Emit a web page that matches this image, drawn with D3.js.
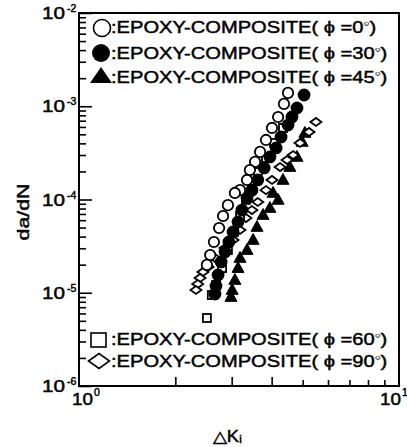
<!DOCTYPE html>
<html>
<head>
<meta charset="utf-8">
<script src="https://cdn.jsdelivr.net/npm/d3@7"></script>
<style>
  html, body { margin: 0; padding: 0; background: #fff; }
  svg { display: block; }
  text { font-family: "Liberation Sans", Arial, sans-serif; fill: #000; stroke: #000; stroke-width: 0.45; }
</style>
</head>
<body>
<svg id="chart" width="407" height="447"></svg>
<script>
// Crack growth rate da/dN vs stress intensity range ΔKi, per fibre angle φ
const series0 = [ // φ = 0°
  [4.50,1.39e-3],[4.37,1.06e-3],[4.19,7.67e-4],[4.01,5.85e-4],[3.84,4.35e-4],
  [3.68,3.24e-4],[3.55,2.53e-4],[3.42,2.07e-4],[3.35,1.62e-4],[3.185,1.26e-4],
  [3.07,1.175e-4],[2.92,8.7e-5],[2.82,6.65e-5],[2.74,4.95e-5],[2.64,3.5e-5],
  [2.57,2.54e-5],[2.51,1.99e-5]
];
const series30 = [ // φ = 30°
  [5.05,1.32e-3],[4.80,9.58e-4],[4.63,7.67e-4],[4.50,6.29e-4],[4.28,4.68e-4],
  [4.13,3.57e-4],[3.95,2.86e-4],[3.79,2.18e-4],[3.62,1.62e-4],[3.47,1.26e-4],
  [3.35,1.04e-4],[3.23,7.7e-5],[3.14,5.74e-5],[3.03,4.48e-5],[2.94,3.5e-5],
  [2.86,2.73e-5],[2.78,2.14e-5],[2.72,1.55e-5],[2.68,1.18e-5],[2.66,9.7e-6]
];
const series45 = [ // φ = 45°
  [5.08,5.17e-4],[4.98,4.14e-4],[4.80,2.86e-4],[4.56,2.23e-4],[4.34,1.62e-4],
  [4.04,1.175e-4],[4.19,9.9e-5],[3.95,8.1e-5],[3.76,6.82e-5],[3.60,5.07e-5],
  [3.50,3.68e-5],[3.35,2.87e-5],[3.185,2.36e-5],[3.14,1.84e-5],[3.07,1.37e-5],
  [3.01,1.07e-5],[2.985,9.0e-6]
];
const series60 = [ // φ = 60°
  [2.51,5.36e-6],[2.60,9.46e-6],[2.68,1.21e-5],[2.80,1.84e-5],[2.92,2.87e-5],
  [3.05,4.48e-5],[3.185,6.65e-5],[3.325,9.9e-5],[3.47,1.43e-4],[3.62,1.97e-4],
  [3.84,2.79e-4],[4.07,4.04e-4],[4.34,5.85e-4]
];
const series90 = [ // φ = 90°
  [5.50,6.78e-4],[5.235,5.30e-4],[4.905,4.04e-4],[4.67,3.0e-4],[4.47,2.65e-4],
  [4.25,2.23e-4],[4.01,1.62e-4],[3.84,1.26e-4],[3.62,9.4e-5],[3.47,7.7e-5],
  [3.325,6.33e-5],[3.185,4.71e-5],[3.03,3.68e-5],[2.86,3.02e-5],[2.66,2.36e-5],
  [2.53,1.89e-5],[2.44,1.67e-5],[2.39,1.44e-5],[2.35,1.24e-5],[2.32,1.07e-5]
];

const legendAngles = ["0", "30", "45", "60", "90"];
const yDecadeExps = ["-2", "-3", "-4", "-5", "-6"];
const xDecadeExps = ["0", "1"];
const xTitle = "△K";
const xTitleSub = "i";
const yTitle = "da/dN";

const svg = d3.select("#chart");
const padL = 79, padR = 399, padT = 13, padB = 386;

const x = d3.scaleLog().domain([1, 10]).range([padL, padR]);
const y = d3.scaleLog().domain([1e-6, 1e-2]).range([padB, padT]);

// frame
svg.append("rect")
  .attr("x", padL).attr("y", padT)
  .attr("width", padR - padL).attr("height", padB - padT)
  .attr("fill", "none").attr("stroke", "#000").attr("stroke-width", 2);

// y axis: decade + minor ticks pointing inward
const yTicks = [];
for (let e = -6; e < -2; e++) for (let m = 1; m <= 9; m++) yTicks.push(m * Math.pow(10, e));
yTicks.push(1e-2);
const yAxis = d3.axisLeft(y).tickValues(yTicks).tickSizeInner(-6).tickSizeOuter(0).tickFormat("");
const gy = svg.append("g").attr("transform", `translate(${padL},0)`).call(yAxis);
gy.select(".domain").remove();
gy.selectAll(".tick line").attr("stroke", "#000").attr("stroke-width", 1.6)
  .attr("x2", d => {
    const l = Math.log10(d);
    return Math.abs(l - Math.round(l)) < 1e-9 ? 13 : 7;
  });

// x axis: minor ticks pointing inward
const xTicks = [2, 3, 4, 5, 6, 7, 8, 9];
const xAxis = d3.axisBottom(x).tickValues(xTicks).tickSizeInner(-8).tickSizeOuter(0).tickFormat("");
const gx = svg.append("g").attr("transform", `translate(0,${padB})`).call(xAxis);
gx.select(".domain").remove();
gx.selectAll(".tick line").attr("stroke", "#000").attr("stroke-width", 1.6)
  .attr("y2", d => d <= 4 ? -9 : -6);

// y tick labels (10 with superscript exponent)
yDecadeExps.forEach(ex => {
  const yy = y(Math.pow(10, +ex));
  svg.append("text").attr("x", 42).attr("y", yy + 6)
    .attr("font-size", 16.5).attr("textLength", 23).attr("lengthAdjust", "spacingAndGlyphs")
    .text("10");
  svg.append("text").attr("x", 67).attr("y", yy - 1)
    .attr("font-size", 10.5).attr("stroke-width", 0.3).text(ex);
});

// x tick labels
xDecadeExps.forEach(ex => {
  const xx = x(Math.pow(10, +ex));
  const lx = ex === "0" ? xx - 7 : xx - 19;
  svg.append("text").attr("x", lx).attr("y", 405)
    .attr("font-size", 16.5).attr("textLength", 21).attr("lengthAdjust", "spacingAndGlyphs")
    .text("10");
  svg.append("text").attr("x", lx + 22).attr("y", 396)
    .attr("font-size", 10.5).attr("stroke-width", 0.3).text(ex);
});

// axis titles
const xt = svg.append("text").attr("transform", "translate(213,442) scale(1.15,1)").attr("font-size", 16);
xt.append("tspan").text(xTitle);
xt.append("tspan").attr("font-size", 10).attr("dy", 1).text(xTitleSub);

svg.append("text")
  .attr("transform", "translate(29,212) rotate(-90)")
  .attr("text-anchor", "middle").attr("font-size", 17)
  .attr("textLength", 57).attr("lengthAdjust", "spacingAndGlyphs")
  .text(yTitle);

// marker shapes
const sw = 1.8;
function drawCircles(data, filled, r) {
  svg.append("g").selectAll("circle").data(data).join("circle")
    .attr("cx", d => x(d[0])).attr("cy", d => y(d[1])).attr("r", r)
    .attr("fill", filled ? "#000" : "#fff").attr("stroke", "#000").attr("stroke-width", sw);
}
function triPath(cx, cy, s) {
  const h = s * 0.9;
  return `M${cx},${cy - h * 0.6}L${cx + s / 2},${cy + h * 0.4}L${cx - s / 2},${cy + h * 0.4}Z`;
}
function diaPath(cx, cy, w, h) {
  return `M${cx - w / 2},${cy}L${cx},${cy - h / 2}L${cx + w / 2},${cy}L${cx},${cy + h / 2}Z`;
}
function drawTriangles(data, s) {
  svg.append("g").selectAll("path").data(data).join("path")
    .attr("d", d => triPath(x(d[0]), y(d[1]), s))
    .attr("fill", "#000").attr("stroke", "#000").attr("stroke-width", 1);
}
function drawDiamonds(data, w, h) {
  svg.append("g").selectAll("path").data(data).join("path")
    .attr("d", d => diaPath(x(d[0]), y(d[1]), w, h))
    .attr("fill", "#fff").attr("stroke", "#000").attr("stroke-width", sw);
}
function drawSquares(data, s) {
  svg.append("g").selectAll("rect").data(data).join("rect")
    .attr("x", d => x(d[0]) - s / 2).attr("y", d => y(d[1]) - s / 2)
    .attr("width", s).attr("height", s)
    .attr("fill", "#fff").attr("stroke", "#000").attr("stroke-width", sw);
}

drawTriangles(series45, 12);
drawDiamonds(series90, 11, 8);
drawSquares(series60, 8);
drawCircles(series30, true, 5.5);
drawCircles(series0, false, 5.2);

// legends
function legendText(yy, angle) {
  const t = svg.append("text")
    .attr("transform", `translate(111,${yy}) scale(1.22,1)`)
    .attr("font-size", 16.5);
  t.append("tspan").text(":EPOXY-COMPOSITE( ϕ =" + angle);
  t.append("tspan").attr("font-size", 8).attr("stroke-width", 0.2).attr("dy", -7).text("○");
  t.append("tspan").attr("dy", 7).text(")");
}
const legendY = [33, 59, 83, 345, 367];
// φ=0 open circle
svg.append("circle").attr("cx", 102).attr("cy", 28).attr("r", 8.5)
  .attr("fill", "#fff").attr("stroke", "#000").attr("stroke-width", 1.6);
// φ=30 filled circle
svg.append("circle").attr("cx", 101).attr("cy", 53).attr("r", 9)
  .attr("fill", "#000");
// φ=45 filled triangle
svg.append("path").attr("d", "M101,67L112,83L90,83Z").attr("fill", "#000");
// φ=60 open square
svg.append("rect").attr("x", 91).attr("y", 333).attr("width", 15).attr("height", 14)
  .attr("fill", "#fff").attr("stroke", "#000").attr("stroke-width", 1.6);
// φ=90 open diamond
svg.append("path").attr("d", diaPath(99, 361, 21, 15))
  .attr("fill", "#fff").attr("stroke", "#000").attr("stroke-width", 1.6);

legendAngles.forEach((a, i) => legendText(legendY[i], a));
</script>
</body>
</html>
